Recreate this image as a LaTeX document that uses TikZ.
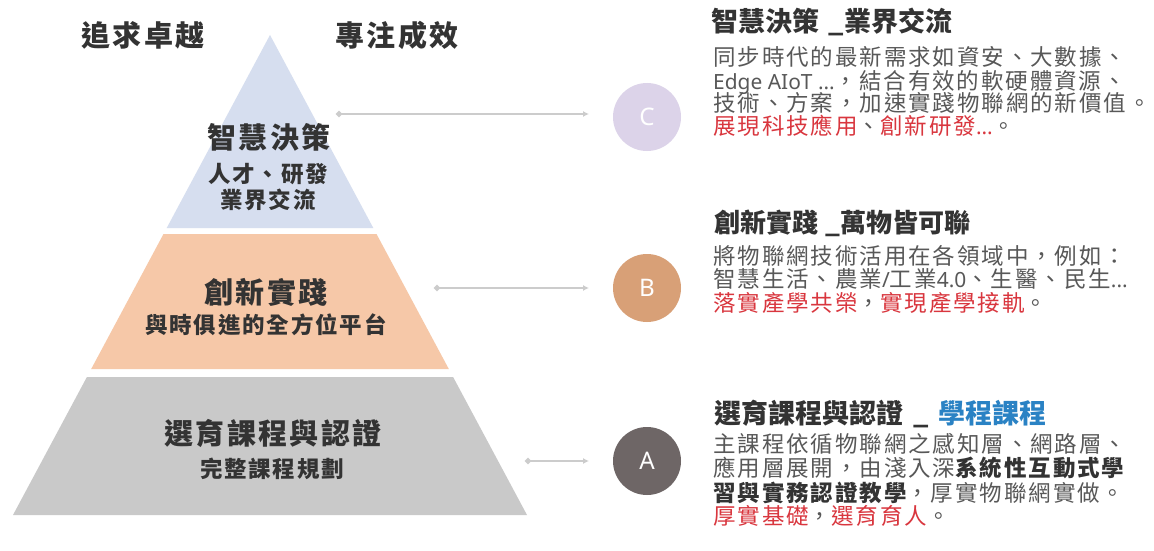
\documentclass[tikz,border=0pt]{standalone}
\usepackage{fontspec}
\usetikzlibrary{arrows.meta}
\setmainfont{Noto Sans CJK TC}
\newfontfamily\bodyfont[LetterSpace=8.5]{Noto Sans CJK TC}
\newfontfamily\pyrfont[LetterSpace=8]{Noto Sans CJK TC}
\newfontfamily\latfont[Scale=0.93]{Noto Sans}
\definecolor{tierblue}{HTML}{D6DEEF}
\definecolor{tierpeach}{HTML}{F6C8A8}
\definecolor{tiergray}{HTML}{C9C9C9}
\definecolor{circC}{HTML}{DCD3E9}
\definecolor{circB}{HTML}{D8A077}
\definecolor{circA}{HTML}{6E6666}
\definecolor{conn}{HTML}{CCCCCC}
\definecolor{bodygray}{HTML}{585858}
\definecolor{titlegray}{HTML}{333333}
\definecolor{hired}{HTML}{D9363E}
\definecolor{hiblue}{HTML}{2A82C4}
\tikzset{
  headtxt/.style={inner sep=0pt, text=titlegray, font=\pyrfont\bfseries\fontsize{29}{29}\selectfont},
  bigtxt/.style={inner sep=0pt, text=titlegray, font=\pyrfont\bfseries\fontsize{29}{29}\selectfont},
  smalltxt/.style={inner sep=0pt, text=titlegray, font=\pyrfont\bfseries\fontsize{22.5}{22.5}\selectfont},
  badge/.style={circle, inner sep=0pt, minimum size=68pt, text=white, font=\latfont\fontsize{26}{26}\selectfont},
  connector/.style={conn, line width=2.2pt, {Circle[length=6pt]}-{Latex[length=6pt,width=6pt]}},
  rtitle/.style={inner sep=0pt, anchor=base west, text=titlegray, font=\bfseries\fontsize{27}{27}\selectfont},
  rbody/.style={inner sep=0pt, anchor=base west, text=bodygray, font=\bodyfont\fontsize{22.5}{22.5}\selectfont},
}
\newcommand{\rd}[1]{\textcolor{hired}{#1}}
\newcommand{\bk}[1]{\textcolor{titlegray}{\bfseries #1}}
\newcommand{\lat}[1]{{\latfont #1}}
\begin{document}
\begin{tikzpicture}[x=1pt,y=-1pt]
\fill[white] (0,0) rectangle (1154,551);
\useasboundingbox (0,0) rectangle (1154,551);
% pyramid tiers
\fill[tierblue] (270,35) -- (373.3,228) -- (166.7,228) -- cycle;
\fill[tierpeach] (163.5,234) -- (376.5,234) -- (448.8,369) -- (91.2,369) -- cycle;
\fill[tiergray] (86.9,377) -- (453.1,377) -- (527,515) -- (13,515) -- cycle;
% headings
\node[headtxt] (h1) at (143,35) {追求卓越};
\node[headtxt] (h2) at (397,35) {專注成效};
% tier texts
\node[bigtxt] (t1a) at (269,137) {智慧決策};
\node[smalltxt] (t1b) at (268,174) {人才、研發};
\node[smalltxt] (t1c) at (268,200) {業界交流};
\node[bigtxt] (t2a) at (266,292) {創新實踐};
\node[smalltxt] (t2b) at (266,325) {與時俱進的全方位平台};
\node[bigtxt] (t3a) at (273,433) {選育課程與認證};
\node[smalltxt] (t3b) at (272,469) {完整課程規劃};
% connectors
\coordinate (sC) at (336,114);
\coordinate (eC) at (589,114);
\coordinate (sB) at (434,288);
\coordinate (eB) at (589,288);
\coordinate (sA) at (525,461);
\coordinate (eA) at (589,461);
\draw[connector] (sC) -- (eC);
\draw[connector] (sB) -- (eB);
\draw[connector] (sA) -- (eA);
% badges
\node[badge, fill=circC] (cC) at (647,117) {C};
\node[badge, fill=circB] (cB) at (647,288) {B};
\node[badge, fill=circA] (cA) at (647,461) {A};
% right texts C
\node[rtitle] (rC0) at (711,32) {智慧決策\hspace{9pt}\_\hspace{1pt}業界交流};
\node[rbody] (rC1) at (713,66) {同步時代的最新需求如資安、大數據、};
\node[rbody] (rC2) at (713,89) {\lat{Edge AIoT ...}，結合有效的軟硬體資源、};
\node[rbody] (rC3) at (713,111.5) {技術、方案，加速實踐物聯網的新價值。};
\node[rbody] (rC4) at (713,134) {\rd{展現科技應用}、\rd{創新研發\lat{...}}。};
% right texts B
\node[rtitle, font=\bfseries\fontsize{26}{26}\selectfont] (rB0) at (714,232.5) {創新實踐\hspace{7pt}\_\hspace{0pt}萬物皆可聯};
\node[rbody] (rB1) at (713,264) {將物聯網技術活用在各領域中，例如：};
\node[rbody] (rB2) at (713,287) {智慧生活、農業\lat{/}工業\lat{4.0}、生醫、民生\lat{...}};
\node[rbody] (rB3) at (713,311) {\rd{落實產學共榮}，\rd{實現產學接軌}。};
% right texts A
\node[rtitle] (rA0) at (714,423) {選育課程與認證\hspace{10pt}\_\hspace{10pt}\textcolor{hiblue}{學程課程}};
\node[rbody] (rA1) at (713,452) {主課程依循物聯網之感知層、網路層、};
\node[rbody] (rA2) at (713,476) {應用層展開，由淺入深\bk{系統性互動式學}};
\node[rbody] (rA3) at (713,501) {\bk{習與實務認證教學}，厚實物聯網實做。};
\node[rbody] (rA4) at (713,524) {\rd{厚實基礎}，\rd{選育育人}。};
\end{tikzpicture}
\end{document}
